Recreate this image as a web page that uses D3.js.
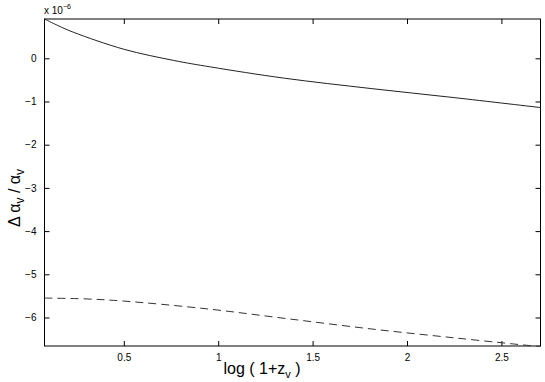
<!DOCTYPE html>
<html>
<head>
<meta charset="utf-8">
<script src="https://cdn.jsdelivr.net/npm/d3@7"></script>
<style>
    body { margin: 0; background: #fff; }
    text { font-family: "Liberation Sans", Arial, sans-serif; fill: #000; }
</style>
</head>
<body>
<div id="chart-div"></div>
<script>
// values in units of 1e-6
var solid_x = [0.08, 0.15, 0.235, 0.5, 0.765, 0.96, 1.35, 1.81, 2.25, 2.707];
var solid_y = [0.91, 0.76, 0.60, 0.21, -0.05, -0.20, -0.46, -0.70, -0.91, -1.14];
var dashed_x = [0.08, 0.3, 0.5, 0.94, 1.37, 1.82, 2.27, 2.65, 2.707];
var dashed_y = [-5.55, -5.57, -5.62, -5.80, -6.03, -6.27, -6.48, -6.65, -6.67];
var x_ticks = [0.5, 1, 1.5, 2, 2.5];
var y_ticks = [0, -1, -2, -3, -4, -5, -6];

var w = 545, h = 382;
var margin = {left: 44.5, right: 4.5, top: 19, bottom: 36};

var svg = d3.select("#chart-div")
    .append("svg")
    .attr("width", w)
    .attr("height", h);

var x = d3.scaleLinear()
    .domain([0.08, 2.707])
    .range([margin.left, w - margin.right]);
var y = d3.scaleLinear()
    .domain([-6.66, 0.91])
    .range([h - margin.bottom, margin.top]);

// axes (ticks point inward, mirrored on top and right)
svg.append("g")
    .attr("transform", "translate(0," + (h - margin.bottom) + ")")
    .call(d3.axisBottom(x).tickValues(x_ticks).tickSize(-5).tickPadding(8).tickFormat(d3.format("")));
svg.append("g")
    .attr("transform", "translate(0," + margin.top + ")")
    .call(d3.axisTop(x).tickValues(x_ticks).tickSize(-5).tickFormat(""));
svg.append("g")
    .attr("transform", "translate(" + margin.left + ",0)")
    .call(d3.axisLeft(y).tickValues(y_ticks).tickSize(-5).tickPadding(8));
svg.append("g")
    .attr("transform", "translate(" + (w - margin.right) + ",0)")
    .call(d3.axisRight(y).tickValues(y_ticks).tickSize(-5).tickFormat(""));

svg.selectAll(".domain").remove();
svg.selectAll(".tick line").attr("stroke", "#000");
svg.selectAll(".tick text").style("font-size", "10px");

// box
svg.append("rect")
    .attr("x", margin.left)
    .attr("y", margin.top)
    .attr("width", w - margin.right - margin.left)
    .attr("height", h - margin.bottom - margin.top)
    .attr("fill", "none")
    .attr("stroke", "#000")
    .attr("stroke-width", 1);

var line = d3.line()
    .x(function (d) { return x(d[0]); })
    .y(function (d) { return y(d[1]); })
    .curve(d3.curveCatmullRom.alpha(0.5));

svg.append("path")
    .datum(d3.zip(solid_x, solid_y))
    .attr("d", line)
    .attr("fill", "none")
    .attr("stroke", "#222")
    .attr("stroke-width", 1);

svg.append("path")
    .datum(d3.zip(dashed_x, dashed_y))
    .attr("d", line)
    .attr("fill", "none")
    .attr("stroke", "#333")
    .attr("stroke-width", 1)
    .attr("stroke-dasharray", "8,5");

// exponent label
var exp = svg.append("text")
    .attr("x", 44)
    .attr("y", 14)
    .style("font-size", "10px");
exp.append("tspan").text("x 10");
exp.append("tspan").attr("dy", -5).style("font-size", "7px").text("\u22126");

// x label
var xl = svg.append("text")
    .attr("x", 262)
    .attr("y", 374)
    .attr("text-anchor", "middle")
    .style("font-size", "16px");
xl.append("tspan").text("log ( 1+z");
xl.append("tspan").attr("dy", 4).style("font-size", "11px").text("v");
xl.append("tspan").attr("dy", -4).text(" )");

// y label
var yl = svg.append("text")
    .attr("transform", "translate(20,198) rotate(-90)")
    .attr("text-anchor", "middle")
    .style("font-size", "16px");
yl.append("tspan").text("\u0394  \u03b1");
yl.append("tspan").attr("dy", 4).style("font-size", "12px").text("v");
yl.append("tspan").attr("dy", -4).text("  /  \u03b1");
yl.append("tspan").attr("dy", 4).style("font-size", "12px").text("v");
</script>
</body>
</html>
